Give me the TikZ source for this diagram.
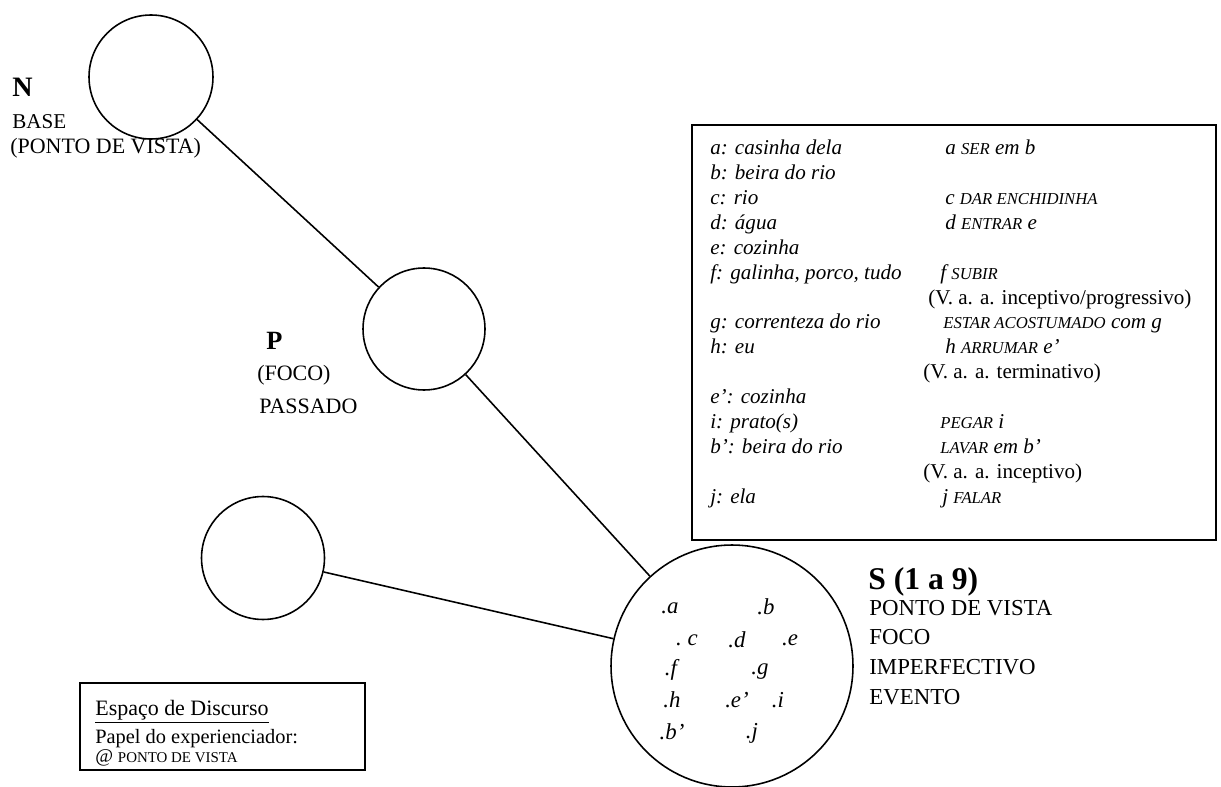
\documentclass[tikz,border=0pt]{standalone}
\usepackage{fontspec}
\setmainfont{Liberation Serif}
\usetikzlibrary{positioning}

\newcommand{\verbo}[1]{{\fontsize{9.5}{11}\selectfont #1}}

\begin{document}
\begin{tikzpicture}[
    x=0.02cm, y=-0.02cm,
    every node/.style={font=\fontsize{12.5}{15}\selectfont},
    espaco/.style={circle, draw, line width=0.9pt, inner sep=0pt},
    liga/.style={line width=0.9pt},
    moldura/.style={rectangle, draw, line width=0.9pt, inner sep=0pt},
    rotulo/.style={anchor=west, inner sep=0pt},
    titulo/.style={rotulo, font=\fontsize{16}{18}\selectfont\bfseries},
    ponto/.style={inner sep=0pt, font=\fontsize{13}{15}\selectfont\itshape}
]
\useasboundingbox (0,0) rectangle (1221,787);

% Spaces
\node[espaco, minimum size=2.48cm] (n) at (151,77)  {};
\node[espaco, minimum size=2.44cm] (p) at (424,329) {};
\node[espaco, minimum size=2.46cm] (q) at (263,558) {};
\node[espaco, minimum size=4.84cm] (s) at (732,666) {};

% Links
\draw[liga] (n) -- (p);
\draw[liga] (p) -- (s);
\draw[liga] (q) -- (s);

% Labels
\node[titulo] (nnome) at (12,87) {N};
\node[rotulo] (nbase) at (12,122) {{\fontsize{12}{14}\selectfont BASE}};
\node[rotulo] (nvista) at (10,148) {({\fontsize{12.5}{14}\selectfont PONTO DE VISTA})};

\node[titulo, font=\fontsize{15}{18}\selectfont\bfseries] (pnome) at (266,341) {P};
\node[rotulo] (pfoco) at (257,375) {({\fontsize{12.5}{14}\selectfont FOCO})};
\node[rotulo] (ppassado) at (259,406) {PASSADO};

\node[titulo, font=\fontsize{18}{20}\selectfont\bfseries] (snome) at (868,582) {S (1 a 9)};
\node[rotulo, font=\fontsize{13}{15}\selectfont] (svista) at (869,608) {PONTO DE VISTA};
\node[rotulo, font=\fontsize{13}{15}\selectfont] (sfoco) at (869,637) {FOCO};
\node[rotulo, font=\fontsize{13}{15}\selectfont] (simperf) at (869,667) {IMPERFECTIVO};
\node[rotulo, font=\fontsize{13}{15}\selectfont] (sevento) at (869,697) {EVENTO};

% Elements in S
\node[ponto] (ea)  at (670,608) {.a};
\node[ponto] (eb)  at (766,607) {.b};
\node[ponto] (ec)  at (687,640) {.\ c};
\node[ponto] (ed)  at (737,640) {.d};
\node[ponto] (ee)  at (790,640) {.e};
\node[ponto] (ef)  at (671,670) {.f};
\node[ponto] (eg)  at (760,672) {.g};
\node[ponto] (eh)  at (672,700) {.h};
\node[ponto] (ee2) at (737,700) {.e'};
\node[ponto] (ei)  at (778,700) {.i};
\node[ponto] (eb2) at (672,732) {.b'};
\node[ponto] (ej)  at (752,733) {.j};

% Table of elements
\node[moldura, minimum width=10.48cm, minimum height=8.3cm] (quadro) at (954,332.5) {};
\node[anchor=north west, inner sep=0pt, font=\fontsize{12}{14.16}\selectfont] (pares) at (710,137) {%
\begin{tabular}{@{}p{4.26cm}@{}l@{}}
\textit{a: casinha dela} & \hspace*{0.44cm}\textit{a \verbo{SER} em b}\\
\textit{b: beira do rio} & \\
\textit{c: rio} & \hspace*{0.44cm}\textit{c \verbo{DAR ENCHIDINHA}}\\
\textit{d: água} & \hspace*{0.44cm}\textit{d \verbo{ENTRAR} e}\\
\textit{e: cozinha} & \\
\textit{f: galinha, porco, tudo} & \hspace*{0.34cm}\textit{f \verbo{SUBIR}}\\
 & \hspace*{0.1cm}(V. a. a. inceptivo/progressivo)\\
\textit{g: correnteza do rio} & \hspace*{0.4cm}\textit{\verbo{ESTAR ACOSTUMADO} com g}\\
\textit{h: eu} & \hspace*{0.44cm}\textit{h \verbo{ARRUMAR} e'}\\
 & (V. a. a. terminativo)\\
\textit{e': cozinha} & \\
\textit{i: prato(s)} & \hspace*{0.34cm}\textit{\verbo{PEGAR} i}\\
\textit{b': beira do rio} & \hspace*{0.34cm}\textit{\verbo{LAVAR} em b'}\\
 & (V. a. a. inceptivo)\\
\textit{j: ela} & \hspace*{0.38cm}\textit{j \verbo{FALAR}}
\end{tabular}};

% Discourse space
\node[moldura, minimum width=5.7cm, minimum height=1.74cm] (discurso) at (222.5,726.5) {};
\node[rotulo] (dtitulo) at (95,712) {\underline{Espaço de Discurso}};
\node[rotulo, font=\fontsize{11.6}{14}\selectfont] (dpapel) at (95,739) {Papel do experienciador:};
\node[rotulo, font=\fontsize{11}{13}\selectfont] (dvista) at (95,758) {@ {\fontsize{8.5}{10}\selectfont PONTO DE VISTA}};
\end{tikzpicture}
\end{document}
